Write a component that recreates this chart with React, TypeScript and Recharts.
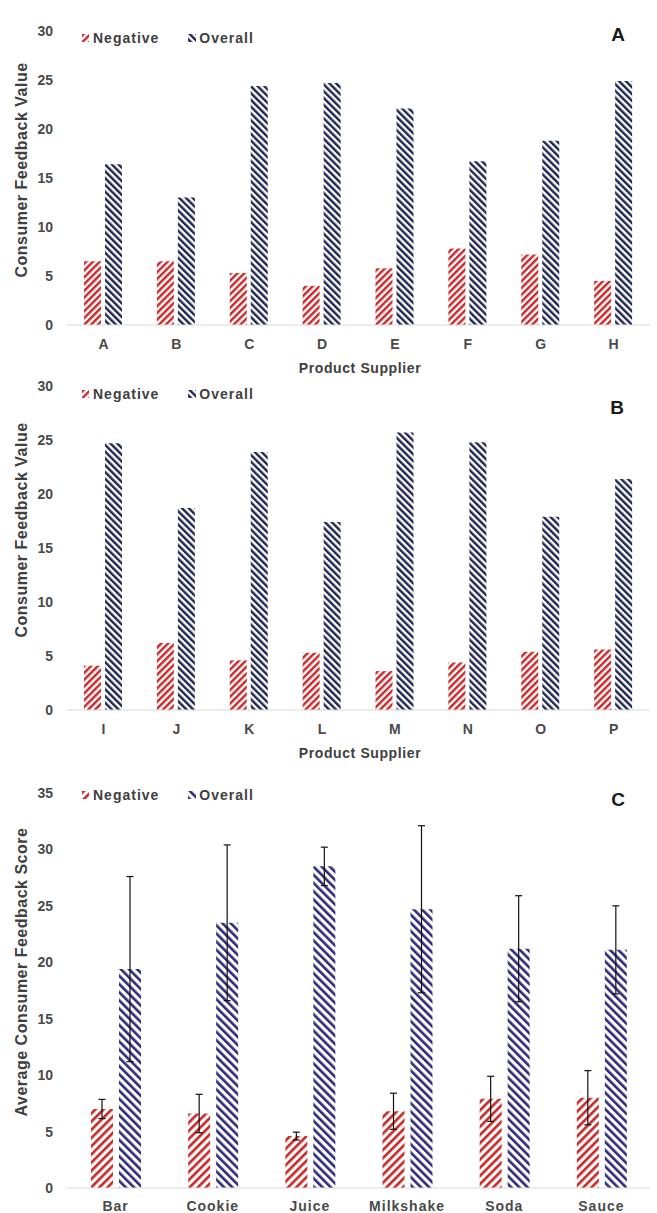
import React from 'react';
import { BarChart, Bar, XAxis, YAxis, Legend, ErrorBar } from 'recharts';

// Panel A / B: consumer feedback per supplier
const suppliersA = ['A', 'B', 'C', 'D', 'E', 'F', 'G', 'H'];
const negativeA = [6.5, 6.5, 5.3, 4.0, 5.8, 7.8, 7.2, 4.5];
const overallA = [16.4, 13.0, 24.4, 24.7, 22.1, 16.7, 18.8, 24.9];

const suppliersB = ['I', 'J', 'K', 'L', 'M', 'N', 'O', 'P'];
const negativeB = [4.1, 6.2, 4.6, 5.3, 3.6, 4.4, 5.4, 5.6];
const overallB = [24.7, 18.7, 23.9, 17.4, 25.7, 24.8, 17.9, 21.4];

// Panel C: average score per product type, with error bars
const products = ['Bar', 'Cookie', 'Juice', 'Milkshake', 'Soda', 'Sauce'];
const negativeC = [7.0, 6.6, 4.6, 6.8, 7.9, 8.0];
const negativeErrC = [0.85, 1.7, 0.35, 1.6, 2.0, 2.4];
const overallC = [19.4, 23.5, 28.5, 24.7, 21.2, 21.1];
const overallErrC = [8.2, 6.9, 1.7, 7.4, 4.7, 3.9];

const ticks30 = [0, 5, 10, 15, 20, 25, 30];
const ticks35 = [0, 5, 10, 15, 20, 25, 30, 35];

const FONT = '"Liberation Sans", Arial, sans-serif';
const RED = '#c8262e';
const NAVY = '#1c2452';
const NAVY_C = '#2b2b7c';

const dataA = suppliersA.map((name, i) => ({ name, negative: negativeA[i], overall: overallA[i] }));
const dataB = suppliersB.map((name, i) => ({ name, negative: negativeB[i], overall: overallB[i] }));
const dataC = products.map((name, i) => ({
  name,
  negative: negativeC[i],
  negativeErr: negativeErrC[i],
  overall: overallC[i],
  overallErr: overallErrC[i],
}));

function Stripes({ id, color, angle, size, stroke }: { id: string; color: string; angle: number; size: number; stroke: number }) {
  return (
    <pattern id={id} patternUnits="userSpaceOnUse" width={size} height={size} patternTransform={`rotate(${angle})`}>
      <rect width={size} height={size} fill="#fffdf6" />
      <rect width={stroke} height={size} fill={color} />
    </pattern>
  );
}

function YTitle({ caption, py }: { caption: string; py: number }) {
  return (
    <text
      x={21}
      y={py}
      transform={`rotate(-90 21 ${py})`}
      textAnchor="middle"
      dominantBaseline="central"
      style={{ fontFamily: FONT, fontWeight: 700, fontSize: 16, letterSpacing: 0.5, fill: '#404040' }}
    >
      {caption}
    </text>
  );
}

function XTitle({ caption, px, py }: { caption: string; px: number; py: number }) {
  return (
    <text
      x={px}
      y={py}
      textAnchor="middle"
      dominantBaseline="central"
      style={{ fontFamily: FONT, fontWeight: 700, fontSize: 14, letterSpacing: 0.6, fill: '#404040' }}
    >
      {caption}
    </text>
  );
}

const legendContent = (negId: string, ovId: string) => () => (
  <div style={{ display: 'flex', alignItems: 'center', fontFamily: FONT, fontWeight: 700, fontSize: 14, letterSpacing: 1, color: '#404040' }}>
    <svg width={7} height={8} style={{ marginRight: 4 }}>
      <rect width={7} height={8} fill={`url(#${negId})`} />
    </svg>
    <span style={{ marginRight: 29 }}>Negative</span>
    <svg width={8} height={8} style={{ marginRight: 3 }}>
      <rect width={8} height={8} fill={`url(#${ovId})`} />
    </svg>
    <span>Overall</span>
  </div>
);

const tickStyle = { fontFamily: FONT, fontWeight: 700, fontSize: 14, fill: '#4a4a4a' };

function PanelLetter({ letter, x, y }: { letter: string; x: number; y: number }) {
  return (
    <div
      style={{
        position: 'absolute',
        left: x - 10,
        top: y - 11,
        width: 20,
        textAlign: 'center',
        fontFamily: FONT,
        fontWeight: 700,
        fontSize: 19,
        lineHeight: '22px',
        color: '#1a1a1a',
      }}
    >
      {letter}
    </div>
  );
}

function SupplierChart({
  data,
  tag,
  top,
  height,
  plotHeight,
  yTitleY,
  xTitleY,
  legendTop,
}: {
  data: { name: string; negative: number; overall: number }[];
  tag: string;
  top: number;
  height: number;
  plotHeight: number;
  yTitleY: number;
  xTitleY: number;
  legendTop: number;
}) {
  const negId = `neg${tag}`;
  const ovId = `ov${tag}`;
  return (
    <div style={{ position: 'absolute', left: 0, top }}>
      <BarChart
        width={657}
        height={height}
        data={data}
        margin={{ top: 15, right: 7, left: 0, bottom: 0 }}
        barSize={17}
        barGap={4}
      >
        <defs>
          <Stripes id={negId} color={RED} angle={45} size={4.8} stroke={2.4} />
          <Stripes id={ovId} color={NAVY} angle={-45} size={4.8} stroke={2.4} />
        </defs>
        <XAxis
          dataKey="name"
          interval={0}
          tickLine={false}
          axisLine={{ stroke: '#d9d9d9' }}
          tick={tickStyle}
          tickMargin={8}
          height={height - 15 - plotHeight}
          label={<XTitle caption="Product Supplier" px={360} py={xTitleY} />}
        />
        <YAxis
          domain={[0, 30]}
          ticks={ticks30}
          axisLine={false}
          tickLine={false}
          tick={tickStyle}
          tickMargin={8}
          width={67}
          label={<YTitle caption="Consumer Feedback Value" py={yTitleY} />}
        />
        <Legend
          verticalAlign="top"
          align="left"
          content={legendContent(negId, ovId)}
          wrapperStyle={{ top: legendTop, left: 82, width: 'auto' }}
        />
        <Bar dataKey="negative" name="Negative" fill={`url(#${negId})`} isAnimationActive={false} />
        <Bar dataKey="overall" name="Overall" fill={`url(#${ovId})`} isAnimationActive={false} />
      </BarChart>
    </div>
  );
}

function ProductChart() {
  return (
    <div style={{ position: 'absolute', left: 0, top: 760 }}>
      <BarChart
        width={657}
        height={453}
        data={dataC}
        margin={{ top: 17, right: 7, left: 0, bottom: 0 }}
        barSize={22}
        barGap={6}
      >
        <defs>
          <Stripes id="negC" color={RED} angle={45} size={5.8} stroke={2.6} />
          <Stripes id="ovC" color={NAVY_C} angle={-45} size={5.8} stroke={2.6} />
        </defs>
        <XAxis
          dataKey="name"
          interval={0}
          tickLine={false}
          axisLine={{ stroke: '#d9d9d9' }}
          tick={{ ...tickStyle, letterSpacing: 1 }}
          tickMargin={7}
          height={25}
        />
        <YAxis
          domain={[0, 35]}
          ticks={ticks35}
          axisLine={false}
          tickLine={false}
          tick={tickStyle}
          tickMargin={8}
          width={67}
          label={<YTitle caption="Average Consumer Feedback Score" py={212} />}
        />
        <Legend
          verticalAlign="top"
          align="left"
          content={legendContent('negC', 'ovC')}
          wrapperStyle={{ top: 27, left: 82, width: 'auto' }}
        />
        <Bar dataKey="negative" name="Negative" fill="url(#negC)" isAnimationActive={false}>
          <ErrorBar dataKey="negativeErr" width={3.5} stroke="#111" strokeWidth={1.2} direction="y" />
        </Bar>
        <Bar dataKey="overall" name="Overall" fill="url(#ovC)" isAnimationActive={false}>
          <ErrorBar dataKey="overallErr" width={3.5} stroke="#111" strokeWidth={1.2} direction="y" />
        </Bar>
      </BarChart>
    </div>
  );
}

export default function App() {
  return (
    <div style={{ position: 'absolute', left: 0, top: 0, width: 657, height: 1213, background: '#fff', overflow: 'hidden' }}>
      <SupplierChart data={dataA} tag="A" top={0} height={380} plotHeight={310} yTitleY={170} xTitleY={368} legendTop={30} />
      <SupplierChart data={dataB} tag="B" top={355} height={410} plotHeight={340} yTitleY={175} xTitleY={398} legendTop={31} />
      <ProductChart />
      <PanelLetter letter="A" x={618} y={35} />
      <PanelLetter letter="B" x={617} y={408} />
      <PanelLetter letter="C" x={618} y={800} />
    </div>
  );
}
